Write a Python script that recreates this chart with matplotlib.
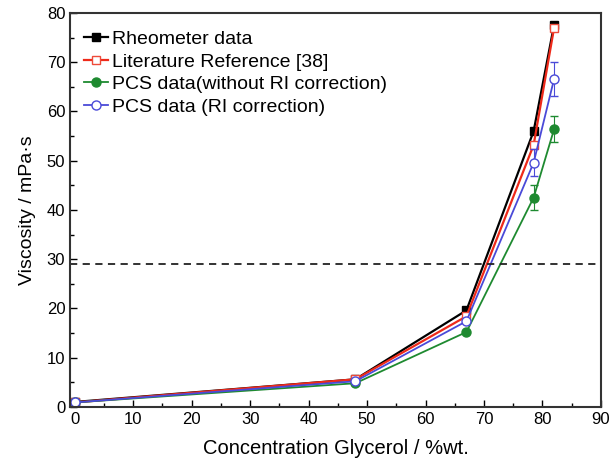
import numpy as np
import matplotlib.pyplot as plt
from matplotlib.ticker import MultipleLocator

plt.rcParams["font.family"] = ["Liberation Sans", "DejaVu Sans"]

# ── Data ───────────────────────────────────────────────────────────────────
conc = [0, 48, 67, 78.5, 82]
rheometer  = [1.0, 5.6, 19.6, 56.0, 77.6]
literature = [0.9, 5.6, 18.4, 53.2, 77.0]
pcs_raw    = [0.9, 4.8, 15.2, 42.5, 56.4]
pcs_raw_err = [0, 0, 0, 2.6, 2.7]
pcs_ri     = [0.9, 5.2, 17.4, 49.6, 66.6]
pcs_ri_err = [0, 0, 0, 2.8, 3.4]
threshold = 29

GREEN = "#1e8a30"
BLUE = "#4a4ad8"

# ── Plot ───────────────────────────────────────────────────────────────────
fig = plt.figure(figsize=(6.1, 4.65), dpi=100)
ax = fig.add_axes([0.115, 0.125, 0.87, 0.847])

ax.plot(conc, rheometer, "-s", color="black", ms=6, lw=1.6,
        label="Rheometer data")
ax.plot(conc, literature, "-s", color="#ee2a1a", mfc="white", mec="#ee4a3a",
        ms=6, lw=1.6, label="Literature Reference [38]")

# error bars drawn separately so legend shows plain line+marker handles
ax.errorbar(conc, pcs_raw, yerr=pcs_raw_err, fmt="none", ecolor=GREEN,
            elinewidth=0.8, capsize=3)
ax.plot(conc, pcs_raw, "-o", color=GREEN, ms=6.5, lw=1.3,
        label="PCS data(without RI correction)")
ax.errorbar(conc, pcs_ri, yerr=pcs_ri_err, fmt="none", ecolor=BLUE,
            elinewidth=0.8, capsize=3)
ax.plot(conc, pcs_ri, "-o", color=BLUE, mfc="white", ms=6.5, lw=1.3,
        label="PCS data (RI correction)")

ax.axhline(threshold, color="#222222", ls=(0, (4, 3)), lw=1.3)

ax.set_xlim(-0.8, 90)
ax.set_ylim(0, 80)
ax.xaxis.set_major_locator(MultipleLocator(10))
ax.xaxis.set_minor_locator(MultipleLocator(5))
ax.yaxis.set_major_locator(MultipleLocator(10))
ax.yaxis.set_minor_locator(MultipleLocator(5))
ax.tick_params(which="both", direction="in", labelsize=12)
ax.tick_params(which="major", length=5, width=1)
ax.tick_params(which="minor", length=3, width=1)
for s in ax.spines.values():
    s.set_linewidth(1.5)
    s.set_color("#333333")

ax.set_xlabel("Concentration Glycerol / %wt.", fontsize=14.5, labelpad=9)
ax.set_ylabel("Viscosity / mPa·s", fontsize=14, labelpad=8)

ax.legend(loc="upper left", frameon=False, fontsize=14, handlelength=1.25,
          handletextpad=0.2, labelspacing=0.25, borderaxespad=0.3,
          bbox_to_anchor=(0.0, 0.99))

fig.savefig("out.png", dpi=100)
